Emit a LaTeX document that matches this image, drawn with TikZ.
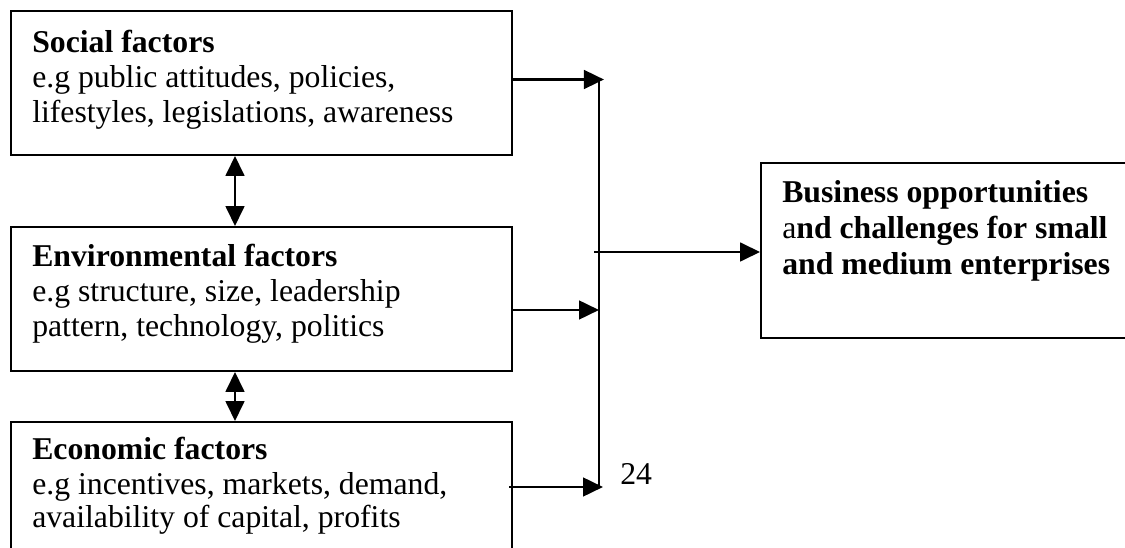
\documentclass[tikz,border=0pt]{standalone}
\usepackage{fontspec}
\setmainfont{Liberation Serif}
\usetikzlibrary{arrows.meta,fit}
\begin{document}
\begin{tikzpicture}[x=0.75pt,y=-0.75pt,
  box/.style={draw, line width=1.4pt, inner sep=0pt},
  txt/.style={anchor=base west, inner sep=0pt, font=\fontsize{23.8pt}{26pt}\selectfont},
  hd/.style={anchor=base west, inner sep=0pt, font=\fontsize{23.8pt}{26pt}\selectfont\bfseries},
  tip/.tip={Triangle[length=15pt,width=14pt]},
  flow/.style={line width=2pt, -tip},
  link/.style={line width=2pt, tip-tip},
  bus/.style={line width=2pt}]
\useasboundingbox (0,0) rectangle (1125,548);
\clip (0,0) rectangle (1125,548);

% factor boxes
\node[box, fit={(11,11) (512,155)}] (social) {};
\node[box, fit={(11,227) (512,371)}] (env) {};
\node[box, fit={(11,422) (512,570)}] (econ) {};
% outcome box
\node[box, fit={(761,163) (1140,338)}] (biz) {};

% box texts
\node[hd]  (s1) at (32,53)  {Social factors};
\node[txt] (s2) at (32,88)  {e.g public attitudes, policies,};
\node[txt] (s3) at (32,123) {lifestyles, legislations, awareness};

\node[hd]  (e1) at (32,267) {Environmental factors};
\node[txt] (e2) at (32,302) {e.g structure, size, leadership};
\node[txt] (e3) at (32,337) {pattern, technology, politics};

\node[hd]  (c1) at (32,460) {Economic factors};
\node[txt] (c2) at (32,495) {e.g incentives, markets, demand,};
\node[txt] (c3) at (32,528) {availability of capital, profits};

\node[hd] (b1) at (782,203) {Business opportunities};
\node[hd] (b2) at (782,239) {{\mdseries a}nd challenges for small};
\node[hd] (b3) at (782,275) {and medium enterprises};

\node[txt] (pg) at (620,485) {24};

% collecting bus
\coordinate (busN) at (599,79.5);
\coordinate (busS) at (599,487);
\coordinate (busM) at (594,252);
\coordinate (lk) at (235,0);
\draw[bus] (busN) -- (busS);

% arrows into the bus
\draw[flow] (social.east |- busN) -- ++(91,0);
\draw[flow] (env.east |- 0,310) -- (busN |- 0,310);
\draw[flow] (509,487) -- ++(94,0);
\draw[flow] (busM) -- (biz.west |- busM);

% links between factor boxes
\draw[link] (lk |- social.south) -- (lk |- env.north);
\draw[link] (lk |- env.south) -- (lk |- econ.north);
\end{tikzpicture}
\end{document}
